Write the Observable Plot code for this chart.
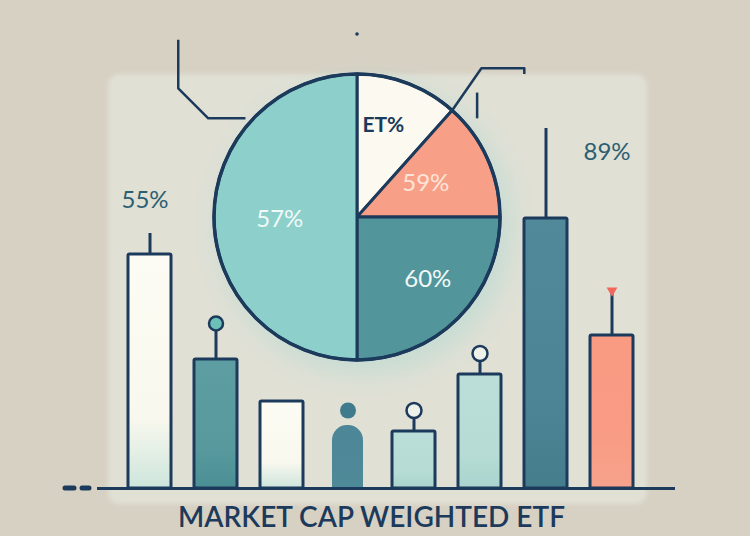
<!DOCTYPE html>
<html><head><meta charset="utf-8">
<script src="https://cdn.jsdelivr.net/npm/d3@7"></script>
<script src="https://cdn.jsdelivr.net/npm/@observablehq/plot@0.6"></script>
<style>
html,body{margin:0;padding:0;background:#d7d1c3;}
#chart{width:750px;height:536px;overflow:hidden;}
</style></head><body><div id="chart"></div>
<script>
// ---- data ----
const barIds = ["A","B","C","D","E","F","G","H"];
const barValues = [78, 43, 29, 21, 19, 38, 90, 51];
const barKinds = ["cream","teal","cream","person","mint","mint","steel","salmon"];
const stemTops = [85, 55, null, 26, 26, 45, 120, 66];
const stemEnds = ["none","dot","none","head","ring","ring","none","heart"];
const labelBars = ["A","H"];
const labelTexts = ["55%","89%"];
const labelHeights = [96, 112];
const pieNames = ["ET%","59%","60%","57%"];
const pieShares = [11.6, 13.4, 25, 50];
const titleText = "MARKET CAP WEIGHTED ETF";

// ---- styles / layout ----
const NAVY = "#1c3a5b";
const gradStops = {
  cream: ["#fdfcf4", "#f9f8ee", "#cde5dc"],
  teal: ["#5e9ea2", "#57999d", "#4b8f94"],
  person: ["#4d8697", "#4f8a99", "#5e9ba3"],
  mint: ["#bbded8", "#b6dcd5", "#a9d4cd"],
  steel: ["#51899a", "#4d8495", "#467d8d"],
  salmon: ["#f99a83", "#f99c85", "#f6a28c"]
};
const pieFills = ["#fbf9f0", "#f8a087", "#52959b", "#8dcfcb"];
const pieTextColors = [NAVY, "#fde4d9", "#f2faf9", "#f0faf8"];
const pieLabelR = [0.68, 0.54, 0.65, 0.54];
const pieLabelShift = [-0.09, -0.05, -0.08, 0];
const PIE = {cx: 357, cy: 217, r: 143};

const bars = barIds.map((id, i) => ({id, value: barValues[i], kind: barKinds[i], top: stemTops[i], end: stemEnds[i]}));
const normalBars = bars.filter(d => d.kind !== "person");
const personBars = bars.filter(d => d.kind === "person");
const stems = bars.filter(d => d.top != null && d.end !== "head");
const labels = labelBars.map((id, i) => ({id, text: labelTexts[i], y: labelHeights[i]}));

function backdrop(_, scales, __, dims) {
  const g = d3.create("svg:g");
  const defs = g.append("defs");
  for (const [k, stops] of Object.entries(gradStops)) {
    const lg = defs.append("linearGradient").attr("id", "g-" + k).attr("x1", 0).attr("x2", 0).attr("y1", 0).attr("y2", 1);
    lg.append("stop").attr("offset", "0").attr("stop-color", stops[0]);
    lg.append("stop").attr("offset", "0.7").attr("stop-color", stops[1]);
    lg.append("stop").attr("offset", "1").attr("stop-color", stops[2]);
  }
  const f = defs.append("filter").attr("id", "soft").attr("x", "-20%").attr("y", "-20%").attr("width", "140%").attr("height", "140%");
  f.append("feGaussianBlur").attr("stdDeviation", 2);
  const f2 = defs.append("filter").attr("id", "glow").attr("x", "-30%").attr("y", "-30%").attr("width", "160%").attr("height", "160%");
  f2.append("feGaussianBlur").attr("stdDeviation", 12);
  const x0 = dims.marginLeft + 11, x1 = dims.width - dims.marginRight - 28;
  g.append("rect").attr("x", x0).attr("y", 74).attr("width", x1 - x0).attr("height", 430)
    .attr("rx", 12).attr("fill", "#e0e0d5").attr("filter", "url(#soft)");
  const yb = scales.y(0);
  [[-32, -23], [-15, -8]].forEach(([a, b]) => {
    g.append("line").attr("x1", dims.marginLeft + a).attr("x2", dims.marginLeft + b)
      .attr("y1", yb).attr("y2", yb).attr("stroke", NAVY).attr("stroke-width", 5).attr("stroke-linecap", "round");
  });
  return g.node();
}

function pieMark(_, scales, __, dims) {
  const {cx, cy, r} = PIE;
  const g = d3.create("svg:g");
  g.append("circle").attr("cx", cx + 8).attr("cy", cy + 10).attr("r", r + 4)
    .attr("fill", "#a8d8d1").attr("opacity", 0.45).attr("filter", "url(#glow)");
  const arcs = d3.pie().sort(null).value(d => d)(pieShares);
  const arc = d3.arc().innerRadius(0).outerRadius(r);
  const pg = g.append("g").attr("transform", `translate(${cx},${cy})`);
  pg.selectAll("path").data(arcs).join("path")
    .attr("d", arc).attr("fill", (d, i) => pieFills[i])
    .attr("stroke", NAVY).attr("stroke-width", 3).attr("stroke-linejoin", "round");
  pg.append("circle").attr("r", r).attr("fill", "none").attr("stroke", NAVY).attr("stroke-width", 3.5);
  const mid = (d, i) => (d.startAngle + d.endAngle) / 2 + pieLabelShift[i];
  pg.selectAll("text").data(arcs).join("text")
    .attr("x", (d, i) => Math.sin(mid(d, i)) * r * pieLabelR[i])
    .attr("y", (d, i) => -Math.cos(mid(d, i)) * r * pieLabelR[i])
    .attr("text-anchor", "middle").attr("dominant-baseline", "central")
    .attr("font-family", "Lato, 'Open Sans', sans-serif")
    .attr("font-size", (d, i) => i === 0 ? 21 : 24)
    .attr("font-weight", (d, i) => i === 0 ? 700 : 400)
    .attr("fill", (d, i) => pieTextColors[i])
    .text((d, i) => pieNames[i]);
  const ang = arcs[0].endAngle;
  const line = d3.line();
  const L = [[-0.78 * r, -0.69 * r], [-1.04 * r, -0.69 * r], [-1.25 * r, -0.9 * r], [-1.25 * r, -1.24 * r]];
  const R = [[Math.sin(ang) * r, -Math.cos(ang) * r], [0.87 * r, -1.04 * r], [1.17 * r, -1.04 * r], [1.17 * r, -1.0 * r]];
  const T = [[0.84 * r, -0.87 * r], [0.84 * r, -0.69 * r]];
  [L, R, T].forEach(pts => pg.append("path").attr("d", line(pts)).attr("fill", "none")
    .attr("stroke", NAVY).attr("stroke-width", 2.5).attr("stroke-linejoin", "round"));
  pg.append("circle").attr("cx", 0).attr("cy", -1.28 * r).attr("r", 1.8).attr("fill", NAVY);
  return g.node();
}

const chart = Plot.plot({
  width: 750,
  height: 536,
  marginLeft: 97,
  marginRight: 75,
  marginTop: 8,
  marginBottom: 48,
  style: {background: "#d7d1c3"},
  x: {type: "band", domain: barIds, paddingInner: 0.35, paddingOuter: 0.525, align: 0.42, axis: null},
  y: {domain: [0, 160], axis: null},
  marks: [
    backdrop,
    pieMark,
    Plot.rectY(normalBars, {x: "id", y: "value", fill: d => `url(#g-${d.kind})`, stroke: NAVY, strokeWidth: 3, rx: 1.5}),
    Plot.rectY(personBars, {x: "id", y1: -10, y2: "value", fill: "url(#g-person)", insetLeft: 6, insetRight: 6, rx: 15, clip: true}),
    Plot.dot(personBars, {x: "id", y: "top", r: 8, fill: "#3f7b8c"}),
    Plot.ruleY([0], {stroke: NAVY, strokeWidth: 3}),
    Plot.ruleX(stems, {x: "id", y1: "value", y2: "top", stroke: NAVY, strokeWidth: 3}),
    Plot.dot(stems.filter(d => d.end === "dot"), {x: "id", y: "top", r: 7, fill: "#6cc0b8", stroke: NAVY, strokeWidth: 2.5}),
    Plot.dot(stems.filter(d => d.end === "ring"), {x: "id", y: "top", r: 7.5, fill: "#eef1e9", stroke: NAVY, strokeWidth: 2.5}),
    Plot.dot(stems.filter(d => d.end === "heart"), {x: "id", y: "top", symbol: "triangle", rotate: 180, r: 4, fill: "#f1675c"}),
    Plot.text(labels, {x: "id", y: "y", text: "text", dx: -5, fill: "#2b5f72", fontSize: 24, fontFamily: "Lato, 'Open Sans', sans-serif"}),
    Plot.text([titleText], {frameAnchor: "bottom", lineAnchor: "middle", dx: -15, dy: 30, fill: NAVY, fontSize: 28, fontWeight: 600, fontFamily: "Lato, 'Open Sans', sans-serif"})
  ]
});
document.getElementById("chart").append(chart);
</script></body></html>
